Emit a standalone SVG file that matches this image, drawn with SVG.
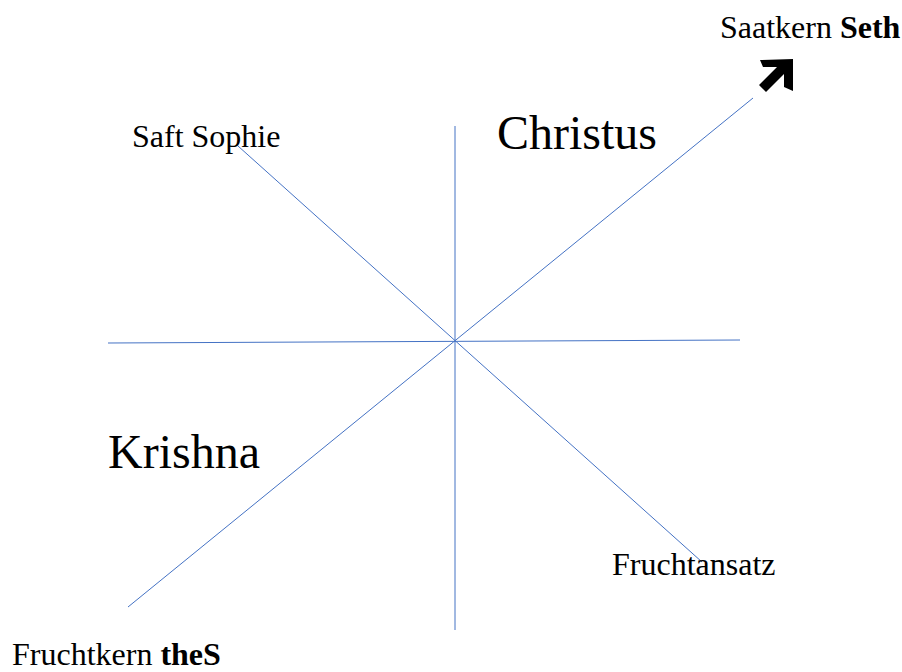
<svg xmlns="http://www.w3.org/2000/svg" width="902" height="672" viewBox="0 0 902 672">
<style>
.ln{stroke:#4472C4;stroke-width:1;fill:none}
.t{font-family:"Liberation Serif","Times New Roman",serif;fill:#000}
.s{font-size:32px}
.b{font-size:48px}
</style>
<rect width="902" height="672" fill="#fff"/>
<g id="connectors">
<line class="ln" x1="455" y1="126" x2="455" y2="630"/>
<line class="ln" x1="108" y1="343" x2="740" y2="340"/>
<line class="ln" x1="128" y1="607" x2="753" y2="98"/>
<line class="ln" x1="238" y1="146" x2="702" y2="562"/>
</g>
<g id="arrow">
<polygon points="793,59 793,91 784,87 784,74 766,92 759,85 777,67 763,67 760,60" fill="#000"/>
</g>
<g id="saatkern"><text class="t s" x="720" y="38">Saatkern <tspan font-weight="bold">Seth</tspan></text></g>
<g id="saft"><text class="t s" x="132" y="147">Saft Sophie</text></g>
<g id="christus"><text class="t b" x="497" y="149">Christus</text></g>
<g id="krishna"><text class="t b" x="108" y="468">Krishna</text></g>
<g id="fruchtansatz"><text class="t s" x="612" y="575">Fruchtansatz</text></g>
<g id="fruchtkern"><text class="t s" x="12" y="665">Fruchtkern <tspan font-weight="bold">theS</tspan></text></g>
</svg>
